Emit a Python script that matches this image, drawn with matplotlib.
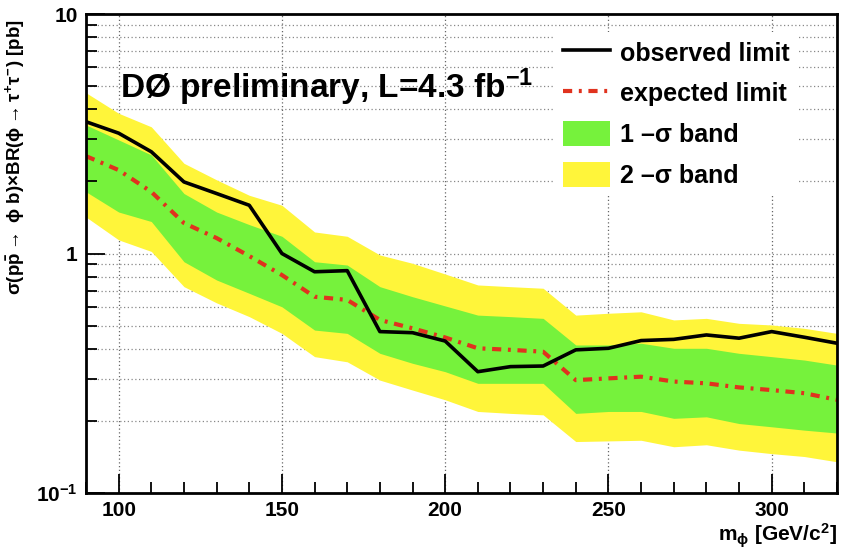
import numpy as np
import matplotlib
matplotlib.use("Agg")
import matplotlib.pyplot as plt
from matplotlib.ticker import FixedLocator, FuncFormatter, NullFormatter, MultipleLocator
from matplotlib.patches import Patch
from matplotlib.lines import Line2D

# === Daten ===
masse = [90, 100, 110, 120, 130, 140, 150, 160, 170, 180, 190, 200,
         210, 220, 230, 240, 250, 260, 270, 280, 290, 300, 310, 320]

beobachtet = [3.55, 3.18, 2.66, 1.99, 1.78, 1.59, 1.00, 0.839, 0.848, 0.472, 0.467, 0.431,
              0.321, 0.337, 0.339, 0.396, 0.402, 0.433, 0.438, 0.457, 0.443, 0.472, 0.447, 0.422]

erwartet = [2.55, 2.23, 1.81, 1.34, 1.16, 0.976, 0.813, 0.660, 0.640, 0.528, 0.487, 0.446,
            0.402, 0.396, 0.389, 0.296, 0.301, 0.306, 0.292, 0.287, 0.276, 0.269, 0.261, 0.245]

band1_oben = [3.44, 2.98, 2.58, 1.78, 1.49, 1.32, 1.18, 0.924, 0.895, 0.727, 0.660, 0.604,
              0.553, 0.545, 0.536, 0.415, 0.415, 0.422, 0.402, 0.402, 0.383, 0.371, 0.359, 0.342]
band1_unten = [1.81, 1.49, 1.36, 0.924, 0.775, 0.682, 0.599, 0.479, 0.464, 0.383, 0.348, 0.321,
               0.287, 0.287, 0.287, 0.215, 0.219, 0.219, 0.205, 0.208, 0.195, 0.189, 0.183, 0.178]

band2_oben = [4.69, 3.85, 3.38, 2.38, 2.03, 1.75, 1.59, 1.23, 1.18, 0.986, 0.910, 0.821,
              0.739, 0.727, 0.716, 0.553, 0.563, 0.571, 0.528, 0.536, 0.511, 0.503, 0.487, 0.464]
band2_unten = [1.42, 1.14, 1.02, 0.727, 0.622, 0.545, 0.464, 0.371, 0.353, 0.296, 0.269, 0.245,
               0.219, 0.215, 0.212, 0.164, 0.165, 0.166, 0.156, 0.159, 0.151, 0.146, 0.142, 0.135]

y_ticks = [0.1, 1, 10]
y_tick_labels = ["10$^{-1}$", "1", "10"]
x_ticks = [100, 150, 200, 250, 300]

# === Stil ===
plt.rcParams['font.family'] = ['Liberation Sans', 'DejaVu Sans']
plt.rcParams['font.weight'] = 'bold'
plt.rcParams['axes.labelweight'] = 'bold'
plt.rcParams['mathtext.fontset'] = 'custom'
plt.rcParams['mathtext.rm'] = 'Liberation Sans:bold'
plt.rcParams['mathtext.it'] = 'Liberation Sans:bold'
plt.rcParams['mathtext.bf'] = 'Liberation Sans:bold'
plt.rcParams['mathtext.sf'] = 'Liberation Sans:bold'

gelb = '#FFF53A'
gruen = '#76F23C'
rot = '#E0321E'

fig = plt.figure(figsize=(8.5, 5.5), dpi=100)
ax = fig.add_axes([86 / 850, 57 / 550, 751 / 850, 479 / 550])
ax.set_yscale('log')
ax.set_xlim(90, 320)
ax.set_ylim(0.1, 10)

# --- Gitter (unter den Bändern) ---
grid_y = [m * 10.0 ** e for e in (-1, 0) for m in range(1, 10)]
for gy in grid_y:
    ax.axhline(gy, color='#888888', lw=0.9, ls=(0, (1, 2)), zorder=0.5)
for gx in x_ticks:
    ax.axvline(gx, color='#666666', lw=0.9, ls=(0, (1, 2)), zorder=0.5)

# --- Bänder und Kurven ---
ax.fill_between(masse, band2_unten, band2_oben, color=gelb, lw=0, zorder=1)
ax.fill_between(masse, band1_unten, band1_oben, color=gruen, lw=0, zorder=1.1)
ax.plot(masse, erwartet, color=rot, lw=3, ls=(0, (2.2, 1.6, 0.7, 1.6)), zorder=2)
ax.plot(masse, beobachtet, color='black', lw=2.6, zorder=2.1)

# --- Achsen ---
ax.yaxis.set_major_locator(FixedLocator(y_ticks))
ax.yaxis.set_major_formatter(FuncFormatter(lambda v, p: y_tick_labels[y_ticks.index(v)] if v in y_ticks else ""))
ax.yaxis.set_minor_formatter(NullFormatter())
ax.xaxis.set_major_locator(FixedLocator(x_ticks))
ax.xaxis.set_minor_locator(MultipleLocator(10))
ax.tick_params(which='both', direction='in', top=False, right=False, width=1.3, labelsize=15)
ax.tick_params(which='major', length=14)
ax.tick_params(which='minor', length=8)
ax.tick_params(axis='x', pad=6)
ax.tick_params(axis='y', pad=6)
for s in ax.spines.values():
    s.set_linewidth(2)
    s.set_zorder(3)

ax.set_xlabel(r"m$_{\phi}$ [GeV/c$^{2}$]", fontsize=15, loc='right')
ax.xaxis.set_label_coords(1.0, -0.06)
ax.set_ylabel(r"$\sigma$(p$\bar{\mathrm{p}}$$\rightarrow$ $\phi$ b)$\times$BR($\phi$$\rightarrow$$\tau^{+}\tau^{-}$) [pb]",
              fontsize=13.5, loc='top')
ax.yaxis.set_label_coords(-0.079, 0.988)

ax.text(0.045, 0.825, "D\u00d8 preliminary, L=4.3 fb$^{-1}$",
        fontsize=24, fontweight='bold', ha='left', va='baseline', zorder=4,
        transform=ax.transAxes)

# --- Legende ---
handles = [
    Line2D([], [], color='black', lw=2.6),
    Line2D([], [], color=rot, lw=3, ls=(0, (2.2, 1.6, 0.7, 1.6))),
    Patch(facecolor=gruen, edgecolor='none'),
    Patch(facecolor=gelb, edgecolor='none'),
]
labels = ["observed limit", "expected limit", "1 \u2013\u03c3 band", "2 \u2013\u03c3 band"]
leg = ax.legend(handles, labels, loc='upper left', bbox_to_anchor=(0.625, 0.962),
                fontsize=18, frameon=True, facecolor='white', edgecolor='none', framealpha=1,
                fancybox=False, handlelength=1.9, handleheight=1.15, handletextpad=0.4,
                labelspacing=0.6, borderpad=0.3, borderaxespad=0)
leg.set_zorder(5)

fig.savefig("out.png", dpi=100)
